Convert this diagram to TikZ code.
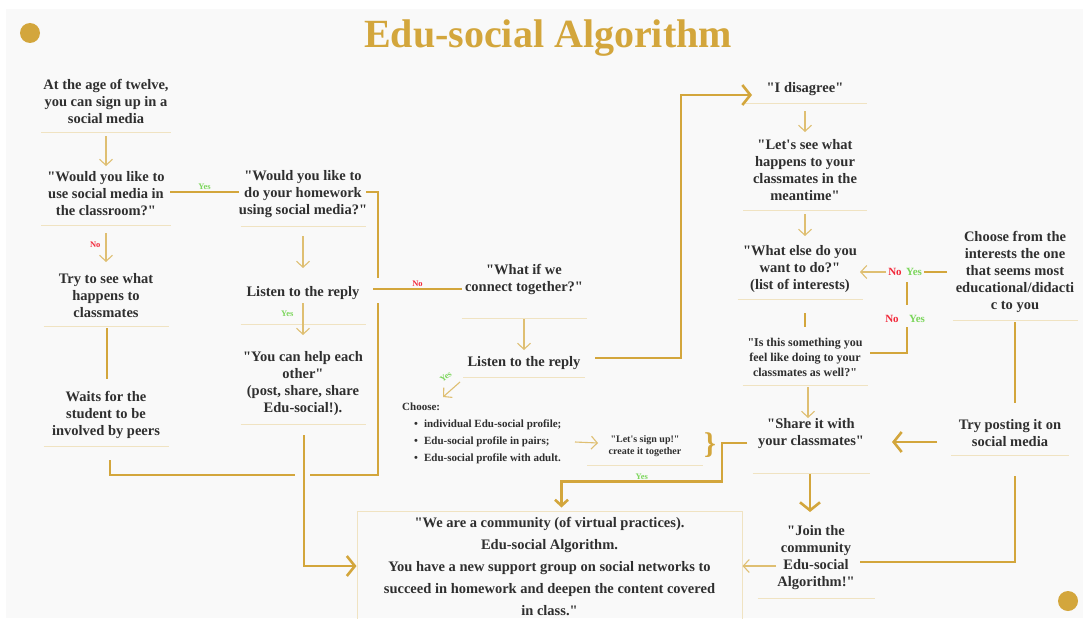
\documentclass[tikz,border=0pt]{standalone}
\usepackage{fontspec}
\setmainfont{Liberation Serif}[Ligatures=TeXOff]
\usetikzlibrary{arrows.meta, calc}
\definecolor{edugold}{HTML}{D3A63C}
\definecolor{goldlt}{HTML}{DFBF72}
\definecolor{rulegold}{HTML}{F0E3C2}
\definecolor{paper}{HTML}{F9F9F9}
\definecolor{ink}{HTML}{2F2F2F}
\definecolor{yesgreen}{HTML}{7CD65C}
\definecolor{nored}{HTML}{F2283A}

\begin{document}
\begin{tikzpicture}[x=1pt, y=-1pt,
  txt/.style={align=center, inner sep=0pt, text=ink, font=\fontsize{14.5}{17}\selectfont\bfseries},
  uline/.style={draw=rulegold, line width=0.8pt},
  bar/.style={draw=edugold, line width=2.6pt},
  bararr/.style={bar, -{Straight Barb[length=8pt, width=20pt]}},
  thinarr/.style={draw=goldlt, line width=1.1pt, -{Straight Barb[length=6pt, width=13pt]}},
  yes/.style={text=yesgreen, inner sep=1pt, font=\fontsize{8.5}{9}\selectfont\bfseries},
  no/.style={text=nored, inner sep=1pt, font=\fontsize{8.5}{9}\selectfont\bfseries},
  big/.style={inner sep=2pt, font=\fontsize{11}{12}\selectfont\bfseries}]
  \useasboundingbox (0,0) rectangle (1083,618);
  % page
  \fill[white] (0,0) rectangle (1083,618);
  \fill[paper] (6,9) rectangle (1083,618);
  \fill[edugold] (30,33) circle[radius=10];
  \fill[edugold] (1068,601) circle[radius=10];
  \node[text=edugold, font=\fontsize{40}{40}\selectfont\bfseries] (title) at (548,38) {Edu-social Algorithm};

  % first column
  \node[txt] (age) at (106,101) {At the age of twelve,\\you can sign up in a\\social media};
  \node[txt] (useq) at (106,194) {"Would you like to\\use social media in\\the classroom?"};
  \node[txt] (trysee) at (106,296) {Try to see what\\happens to\\classmates};
  \node[txt] (waits) at (106,415) {Waits for the\\student to be\\involved by peers};
  % second column
  \node[txt] (homeq) at (303,194) {"Would you like to\\do your homework\\using social media?"};
  \node[txt] (listena) at (303,293) {Listen to the reply};
  \node[txt] (helpeach) at (303,384) {"You can help each\\other"\\(post, share, share\\Edu-social!).};
  % third column
  \node[txt] (connect) at (524,279) {"What if we\\connect together?"};
  \node[txt] (listenb) at (524,363) {Listen to the reply};
  \node[txt, align=left, anchor=west, font=\fontsize{11}{17}\selectfont\bfseries] (choose) at (402,433)
    {Choose:\\
     \hspace*{12pt}\textbullet\hspace{6pt}individual Edu-social profile;\\
     \hspace*{12pt}\textbullet\hspace{6pt}Edu-social profile in pairs;\\
     \hspace*{12pt}\textbullet\hspace{6pt}Edu-social profile with adult.};
  \node[txt, font=\fontsize{10}{12}\selectfont\bfseries] (signup) at (645,446) {"Let's sign up!"\\create it together};
  \node[text=edugold, inner sep=0pt, font=\fontsize{30}{30}\selectfont\bfseries] (brace) at (710,445) {\}};
  % fourth column
  \node[txt] (disagree) at (805,89) {"I disagree"};
  \node[txt] (letsee) at (805,170) {"Let's see what\\happens to your\\classmates in the\\meantime"};
  \node[txt] (whatelse) at (800,269) {"What else do you\\want to do?"\\(list of interests)};
  \node[txt, font=\fontsize{12}{15}\selectfont\bfseries] (feellike) at (805,357)
    {"Is this something you\\feel like doing to your\\classmates as well?"};
  \node[txt] (share) at (811,434) {"Share it with\\your classmates"};
  \node[txt] (join) at (816,558) {"Join the\\community\\Edu-social\\Algorithm!"};
  % fifth column
  \node[txt] (interests) at (1015,272) {Choose from the\\interests the one\\that seems most\\educational/didacti\\c to you};
  \node[txt] (trypost) at (1010,433) {Try posting it on\\social media};
  \node[no, big] (pickno) at (895,272) {No};
  \node[yes, big] (pickyes) at (914,272) {Yes};
  \node[no, big] (feelno) at (892,319) {No};
  \node[yes, big] (feelyes) at (917,319) {Yes};
  % the community box
  \node[txt, draw=rulegold, line width=1pt, minimum width=385pt, minimum height=110pt,
    font=\fontsize{14.5}{22}\selectfont\bfseries] (community) at (549.5,566)
    {"We are a community (of virtual practices).\\Edu-social Algorithm.\\You have a new support group on social networks to\\succeed in homework and deepen the content covered\\in class."};

  % underlines
  \foreach \n/\dy/\w in {age/31/130, useq/31/130, trysee/30/125, waits/31/125, homeq/32/125,
      listena/31/125, helpeach/40/125, connect/39/125, listenb/14/122, signup/19/116,
      disagree/14/124, letsee/40/124, whatelse/30/125, feellike/28/125, share/39/117,
      join/40/117, interests/48/125, trypost/22/118}
    \draw[uline] ($(\n)+(-\w/2,\dy)$) -- ++(\w,0);

  % first column
  \draw[thinarr] ($(age)+(0,35)$) -- ($(useq)+(0,-28)$);
  \draw[thinarr] ($(useq)+(0,39)$) -- node[no, left=4pt, pos=0.4] {No} ($(trysee)+(0,-34)$);
  \draw[bar] ($(trysee)+(1,32)$) -- ($(waits)+(1,-36)$);
  \coordinate (merge) at (304,475);
  \draw[bar] ($(waits)+(4,45)$) |- ($(merge)+(-9,0)$);
  % second column
  \draw[bar] ($(useq)+(64,-2)$) -- node[yes, above] {Yes} ($(homeq)+(-64,-2)$);
  \draw[bar] ($(homeq)+(63,-2)$) -| ($(listena)+(75,-15)$);
  \draw[thinarr] ($(homeq)+(0,42)$) -- ($(listena)+(0,-25)$);
  \draw[thinarr] ($(listena)+(0,10)$) -- node[yes, left=8pt, pos=0.35] {Yes} ($(helpeach)+(0,-49)$);
  \draw[bararr] ($(helpeach)+(1,51)$) |- (community.west);
  \draw[bar] ($(listena)+(70,-4)$) -- node[no, above] {No} ($(connect)+(-62,10)$);
  \draw[bar] ($(listena)+(75,10)$) |- ($(merge)+(6,0)$);
  % third column
  \draw[thinarr] ($(connect)+(0,40)$) -- ($(listenb)+(0,-13)$);
  \draw[bararr] ($(listenb)+(71,-5)$) -- ++(86,0) |- ($(disagree)+(-53,6)$);
  \draw[thinarr] ($(listenb)+(-64,19)$) -- node[yes, pos=0.25, xshift=-10pt, yshift=9pt, rotate=38] {Yes}
    ($(choose.west)+(41,-36)$);
  \draw[thinarr] ($(choose.west)+(173,9)$) -- ($(signup)+(-47,-3)$);
  \draw[bar, -{Straight Barb[length=6pt, width=13pt]}] ($(share)+(-64,9)$) -- ++(-25,0)
    |- node[yes, above, pos=0.75] {Yes} ($(community.north)+(12,-29)$) -- ($(community.north)+(12,-3)$);
  % fourth column
  \draw[thinarr] ($(disagree)+(0,22)$) -- ($(letsee)+(0,-38)$);
  \draw[thinarr] ($(letsee)+(0,44)$) -- ($(whatelse)+(5,-33)$);
  \draw[bar] ($(whatelse)+(5,44)$) -- ($(feellike)+(0,-30)$);
  \draw[thinarr] ($(feellike)+(3,30)$) -- ($(share)+(-3,-16)$);
  \draw[bararr] ($(share)+(-1,40)$) -- ($(join)+(-6,-46)$);
  \draw[thinarr] ($(join)+(-40,8)$) -- (community.east);
  % fifth column
  \draw[bar] ($(interests)+(-68,0)$) -- (pickyes.east);
  \draw[thinarr] (pickno.west) -- ($(whatelse)+(60,3)$);
  \draw[bar] ($(pickyes)+(-7,10)$) -- ($(feelyes)+(-10,-14)$);
  \draw[bar] ($(feelyes)+(-10,8)$) |- ($(feellike)+(65,-4)$);
  \draw[bar] ($(interests)+(0,50)$) -- ($(trypost)+(5,-30)$);
  \draw[bararr] ($(trypost)+(-73,9)$) -- ($(share)+(81,8)$);
  \draw[bar] ($(trypost)+(5,43)$) |- ($(join)+(44,4)$);
\end{tikzpicture}
\end{document}
